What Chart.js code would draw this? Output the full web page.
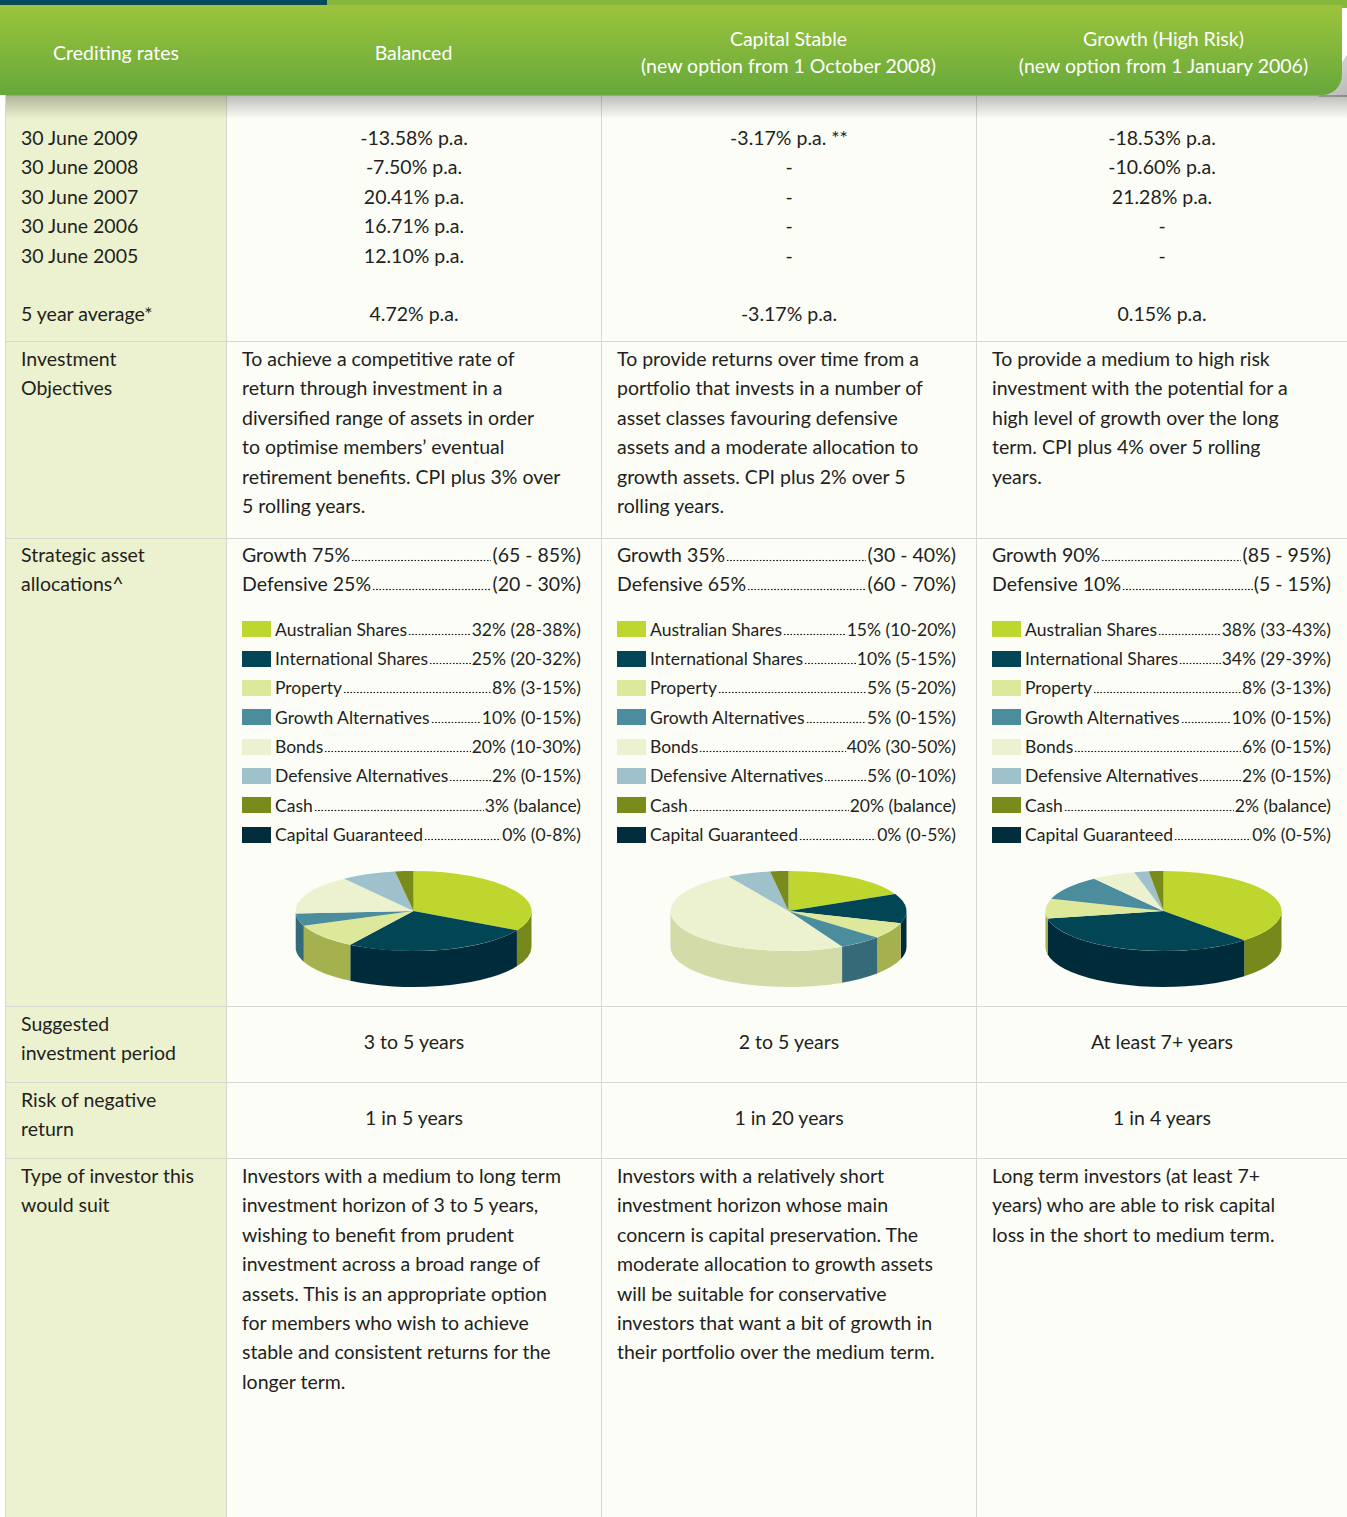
<!DOCTYPE html>
<html>
<head>
<meta charset="utf-8">
<title>Investment options</title>
<script src="https://cdn.jsdelivr.net/npm/chart.js@4.4.1/dist/chart.umd.min.js"></script>
<style>
  body { margin:0; width:1347px; height:1517px; overflow:hidden; position:relative; background:#fff;
         font-family: Lato, "Open Sans", sans-serif; color:#231f20; }
  .topbar { position:absolute; left:0; top:0; width:1347px; height:8px; background:#86b83c; }
  .topbar .dark { position:absolute; left:0; top:0; width:327px; height:5px; background:#05495a; }
  .header { position:absolute; left:0; top:5px; width:1342px; height:90px; z-index:4; color:#fff; font-size:19.5px;
            background:linear-gradient(#9cc43b, #66a83c); border-bottom-right-radius:20px; }
  .header div { position:absolute; top:2px; height:90px; display:flex; align-items:center; justify-content:center;
                text-align:center; line-height:27px; }
  .curl { position:absolute; left:1318px; top:55px; width:29px; height:42px; z-index:3;
          background:linear-gradient(135deg, #e4e4e4, #b9b9b9); clip-path:polygon(100% 0, 100% 100%, 0 100%); }
  .shadow { position:absolute; left:6px; top:95px; width:1341px; height:24px; z-index:3;
            background:linear-gradient(rgba(0,0,0,0.26), rgba(0,0,0,0)); }
  table { position:absolute; left:5px; top:95px; width:1342px; border-collapse:collapse; table-layout:fixed;
          font-size:19.5px; line-height:29.4px; }
  td { vertical-align:top; padding:0 20px 0 15px; border:1px solid #d8d8d2; background:#fcfdf7; white-space:nowrap; }
  td:last-child { padding-right:16px; }
  td.lab { background:#ecf2cf; }
  td.c { text-align:center; padding-left:0; padding-right:0; }
  td.mid { vertical-align:middle; padding-bottom:8px; }
  tr.rates td { padding-top:27px; }
  tr.obj td { padding-top:2px; }
  tr.alloc td { padding-top:1px; }
  tr.short td { padding-top:2px; }
  .split { display:flex; align-items:baseline; }
  .dots { flex:1; height:3px; margin:0 1px;
          background-image:radial-gradient(circle, #231f20 0.8px, rgba(0,0,0,0) 1.1px);
          background-size:3.3px 3px; background-repeat:repeat-x; background-position:left bottom; }
  .legend { margin-top:16px; }
  .leg { display:flex; align-items:baseline; height:29.3px; line-height:29.3px; font-size:17.5px; }
  .sw { width:29px; height:16px; margin-right:4px; flex:none; align-self:center; }
  .pie { position:absolute; top:850px; width:375px; height:156px; z-index:2; }
</style>
</head>
<body>
<div class="topbar"><div class="dark"></div></div>
<div class="header">
  <div style="left:6px;width:220px">Crediting rates</div>
  <div style="left:226px;width:375px">Balanced</div>
  <div style="left:601px;width:375px">Capital Stable<br>(new option from 1 October 2008)</div>
  <div style="left:976px;width:375px">Growth (High Risk)<br>(new option from 1 January 2006)</div>
</div>
<div class="curl"></div>
<div class="shadow"></div>

<table>
  <colgroup><col style="width:221px"><col style="width:375px"><col style="width:375px"><col style="width:371px"></colgroup>
  <tr class="rates" style="height:246px">
    <td class="lab" id="rateLabels"></td>
    <td class="c" id="rates0"></td>
    <td class="c" id="rates1"></td>
    <td class="c" id="rates2"></td>
  </tr>
  <tr class="obj" style="height:197px">
    <td class="lab">Investment<br>Objectives</td>
    <td>To achieve a competitive rate of<br>return through investment in a<br>diversified range of assets in order<br>to optimise members’ eventual<br>retirement benefits. CPI plus 3% over<br>5 rolling years.</td>
    <td>To provide returns over time from a<br>portfolio that invests in a number of<br>asset classes favouring defensive<br>assets and a moderate allocation to<br>growth assets. CPI plus 2% over 5<br>rolling years.</td>
    <td>To provide a medium to high risk<br>investment with the potential for a<br>high level of growth over the long<br>term. CPI plus 4% over 5 rolling<br>years.</td>
  </tr>
  <tr class="alloc" style="height:468px">
    <td class="lab">Strategic asset<br>allocations^</td>
    <td id="alloc0"></td>
    <td id="alloc1"></td>
    <td id="alloc2"></td>
  </tr>
  <tr class="short" style="height:76px">
    <td class="lab">Suggested<br>investment period</td>
    <td class="c mid">3 to 5 years</td>
    <td class="c mid">2 to 5 years</td>
    <td class="c mid">At least 7+ years</td>
  </tr>
  <tr class="short" style="height:76px">
    <td class="lab">Risk of negative<br>return</td>
    <td class="c mid">1 in 5 years</td>
    <td class="c mid">1 in 20 years</td>
    <td class="c mid">1 in 4 years</td>
  </tr>
  <tr class="short" style="height:359px">
    <td class="lab">Type of investor this<br>would suit</td>
    <td>Investors with a medium to long term<br>investment horizon of 3 to 5 years,<br>wishing to benefit from prudent<br>investment across a broad range of<br>assets. This is an appropriate option<br>for members who wish to achieve<br>stable and consistent returns for the<br>longer term.</td>
    <td>Investors with a relatively short<br>investment horizon whose main<br>concern is capital preservation. The<br>moderate allocation to growth assets<br>will be suitable for conservative<br>investors that want a bit of growth in<br>their portfolio over the medium term.</td>
    <td>Long term investors (at least 7+<br>years) who are able to risk capital<br>loss in the short to medium term.</td>
  </tr>
</table>

<div class="pie" style="left:226px"><canvas id="pie0" width="375" height="156"></canvas></div>
<div class="pie" style="left:601px"><canvas id="pie1" width="375" height="156"></canvas></div>
<div class="pie" style="left:976px"><canvas id="pie2" width="375" height="156"></canvas></div>

<script>
// crediting rates
const rateDates = ['30 June 2009', '30 June 2008', '30 June 2007', '30 June 2006', '30 June 2005'];
const balancedRates = ['-13.58% p.a.', '-7.50% p.a.', '20.41% p.a.', '16.71% p.a.', '12.10% p.a.'];
const stableRates = ['-3.17% p.a. **', '-', '-', '-', '-'];
const growthRates = ['-18.53% p.a.', '-10.60% p.a.', '21.28% p.a.', '-', '-'];
const fiveYearAvg = ['4.72% p.a.', '-3.17% p.a.', '0.15% p.a.'];

// asset classes
const categories = ['Australian Shares', 'International Shares', 'Property', 'Growth Alternatives',
  'Bonds', 'Defensive Alternatives', 'Cash', 'Capital Guaranteed'];
const topColors = ['#bfd62f', '#024656', '#dee89b', '#4b8d9d', '#ecf2d0', '#9fc1cb', '#798b1b', '#012c3b'];
const sideColors = ['#76891a', '#002b3a', '#a5b04e', '#356a78', '#d3dca8', '#7fa0aa', '#5d6e12', '#001a24'];

// growth / defensive split
const growthShare = [75, 35, 90];
const growthRange = ['65 - 85%', '30 - 40%', '85 - 95%'];
const defensiveShare = [25, 65, 10];
const defensiveRange = ['20 - 30%', '60 - 70%', '5 - 15%'];

// strategic allocation (legend)
const balancedAlloc = [32, 25, 8, 10, 20, 2, 3, 0];
const balancedRange = ['28-38%', '20-32%', '3-15%', '0-15%', '10-30%', '0-15%', 'balance', '0-8%'];
const stableAlloc = [15, 10, 5, 5, 40, 5, 20, 0];
const stableRange = ['10-20%', '5-15%', '5-20%', '0-15%', '30-50%', '0-10%', 'balance', '0-5%'];
const growthAlloc = [38, 34, 8, 10, 6, 2, 2, 0];
const growthAllocRange = ['33-43%', '29-39%', '3-13%', '0-15%', '0-15%', '0-15%', 'balance', '0-5%'];

// slices as drawn in the pies
const balancedPie = [33, 26, 10, 5, 16, 7.5, 2.5, 0];
const stablePie = [18, 12, 6.5, 6, 49, 6, 2.5, 0];
const growthPie = [38, 34, 8, 10, 6, 2, 2, 0];

//Crediting rates cells
document.getElementById('rateLabels').innerHTML = rateDates.join('<br>') + '<br><br>5 year average*';
[balancedRates, stableRates, growthRates].forEach((rates, i) => {
  document.getElementById('rates' + i).innerHTML = rates.join('<br>') + '<br><br>' + fiveYearAvg[i];
});

//Allocation cells (dot leaders are a css background)
const allocs = [balancedAlloc, stableAlloc, growthAlloc];
const ranges = [balancedRange, stableRange, growthAllocRange];
allocs.forEach((alloc, i) => {
  let html = `
    <div class="split">Growth ${growthShare[i]}%<span class="dots"></span>(${growthRange[i]})</div>
    <div class="split">Defensive ${defensiveShare[i]}%<span class="dots"></span>(${defensiveRange[i]})</div>
    <div class="legend">`;
  categories.forEach((name, j) => {
    html += `<div class="leg"><span class="sw" style="background:${topColors[j]}"></span>${name}` +
      `<span class="dots"></span>${alloc[j]}% (${ranges[i][j]})</div>`;
  });
  html += '</div>';
  document.getElementById('alloc' + i).innerHTML = html;
});

//3D look: squash the pie and paint the outer wall
const tilt = 40 / 118;
const depth = 36;
const pie3d = {
  id: 'pie3d',
  beforeDatasetsDraw(chart) {
    const ctx = chart.ctx;
    const arcs = chart.getDatasetMeta(0).data;
    let cx = 0, cy = 0;
    arcs.forEach((arc, i) => {
      const p = arc.getProps(['x', 'y', 'startAngle', 'endAngle', 'outerRadius'], true);
      cx = p.x; cy = p.y;
      const a = Math.max(p.startAngle, 0);
      const b = Math.min(p.endAngle, Math.PI);
      if (b <= a) return;
      const ry = p.outerRadius * tilt;
      ctx.beginPath();
      ctx.ellipse(p.x, p.y, p.outerRadius, ry, 0, a, b);
      ctx.ellipse(p.x, p.y + depth, p.outerRadius, ry, 0, b, a, true);
      ctx.closePath();
      ctx.fillStyle = sideColors[i];
      ctx.fill();
    });
    ctx.save();
    ctx.translate(cx, cy);
    ctx.scale(1, tilt);
    ctx.translate(-cx, -cy);
  },
  afterDatasetsDraw(chart) {
    chart.ctx.restore();
  }
};

[balancedPie, stablePie, growthPie].forEach((values, i) => {
  new Chart(document.getElementById('pie' + i), {
    type: 'pie',
    data: {
      labels: categories,
      datasets: [{
        data: values,
        backgroundColor: topColors,
        borderWidth: 0,
        radius: 118,
        clip: false
      }]
    },
    options: {
      responsive: false,
      animation: false,
      layout: { padding: { bottom: 34 } },
      plugins: { legend: { display: false }, tooltip: { enabled: false } }
    },
    plugins: [pie3d]
  });
});
</script>
</body>
</html>
